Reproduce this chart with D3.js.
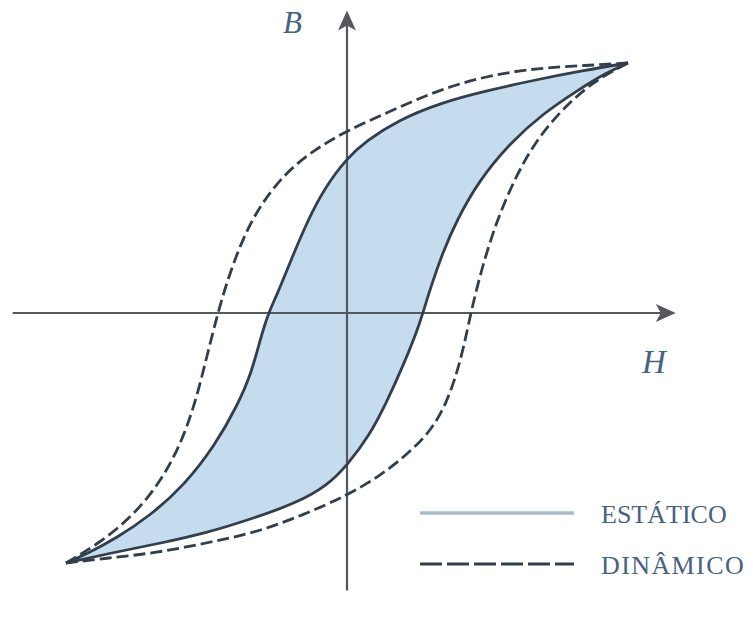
<!DOCTYPE html>
<html>
<head>
<meta charset="utf-8">
<script src="https://cdn.jsdelivr.net/npm/d3@7/dist/d3.min.js"></script>
<style>
  html, body { margin: 0; padding: 0; background: #fff; }
  svg { display: block; }
</style>
</head>
<body>
<svg id="chart" width="753" height="618"></svg>
<script>
// Hysteresis loops, normalised so both loop tips sit at (±1, ±1).
// Each branch is listed as [H, B] pairs.

// Static loop: descending (upper) branch, tip → tip
const staticUpper = [
  [1.00, 1.00], [0.84, 0.97], [0.66, 0.93], [0.50, 0.89], [0.33, 0.84],
  [0.18, 0.77], [0.07, 0.69], [0.00, 0.62], [-0.08, 0.50], [-0.14, 0.37],
  [-0.20, 0.21], [-0.25, 0.07], [-0.28, 0.00], [-0.31, -0.11], [-0.34, -0.24],
  [-0.39, -0.37], [-0.47, -0.53], [-0.58, -0.69], [-0.70, -0.81], [-0.82, -0.90],
  [-0.92, -0.96], [-1.00, -1.00]
];
// Static loop: ascending (lower) branch, tip → tip
const staticLower = [
  [-1.00, -1.00], [-0.84, -0.96], [-0.66, -0.92], [-0.50, -0.88], [-0.33, -0.82],
  [-0.18, -0.76], [-0.07, -0.69], [0.00, -0.61], [0.08, -0.49], [0.14, -0.36],
  [0.20, -0.21], [0.25, -0.07], [0.27, 0.00], [0.30, 0.11], [0.34, 0.24],
  [0.39, 0.37], [0.47, 0.53], [0.58, 0.68], [0.70, 0.80], [0.82, 0.89],
  [0.92, 0.96], [1.00, 1.00]
];
// Dynamic loop: descending branch
const dynamicUpper = [
  [1.00, 1.00], [0.85, 0.99], [0.68, 0.98], [0.50, 0.95], [0.32, 0.89],
  [0.16, 0.81], [0.00, 0.73], [-0.12, 0.65], [-0.22, 0.56], [-0.31, 0.43],
  [-0.37, 0.30], [-0.42, 0.15], [-0.46, 0.00], [-0.50, -0.18], [-0.54, -0.36],
  [-0.59, -0.52], [-0.66, -0.67], [-0.76, -0.81], [-0.88, -0.92], [-1.00, -1.00]
];
// Dynamic loop: ascending branch
const dynamicLower = [
  [-1.00, -1.00], [-0.85, -0.98], [-0.68, -0.96], [-0.50, -0.92], [-0.33, -0.88],
  [-0.16, -0.81], [0.00, -0.73], [0.12, -0.65], [0.22, -0.56], [0.30, -0.47],
  [0.36, -0.35], [0.41, -0.17], [0.44, 0.00], [0.48, 0.18], [0.53, 0.36],
  [0.59, 0.52], [0.66, 0.67], [0.76, 0.81], [0.88, 0.93], [1.00, 1.00]
];

// Extents of the H and B axes (arrow tips at the positive ends)
const hAxisExtent = [-1.19, 1.17];
const bAxisExtent = [-1.11, 1.21];

const axisLabels = { h: "H", b: "B" };
const legendItems = ["ESTÁTICO", "DINÂMICO"];

const svg = d3.select("#chart");

const x = d3.scaleLinear().domain([-1, 1]).range([66, 628]);
const y = d3.scaleLinear().domain([-1, 1]).range([563, 63]);

const lineColor = "#333e4b";
const axisColor = "#55585c";
const textColor = "#46627f";
const fillColor = "#c4dcee";

const line = d3.line()
  .x(d => x(d[0]))
  .y(d => y(d[1]))
  .curve(d3.curveBasis);

// Closed outline of a loop: descending branch followed by ascending branch
function loopPath(upper, lower) {
  return line(upper) + line(lower).replace(/^M/, "L") + "Z";
}

// Static loop area
svg.append("path")
  .attr("d", loopPath(staticUpper, staticLower))
  .attr("fill", fillColor)
  .attr("stroke", "none");

// Axes
const axes = svg.append("g").attr("stroke", axisColor).attr("fill", axisColor);
axes.append("line")
  .attr("x1", x(hAxisExtent[0])).attr("x2", x(hAxisExtent[1]) - 12)
  .attr("y1", y(0)).attr("y2", y(0))
  .attr("stroke-width", 2.2);
axes.append("line")
  .attr("x1", x(0)).attr("x2", x(0))
  .attr("y1", y(bAxisExtent[0])).attr("y2", y(bAxisExtent[1]) + 12)
  .attr("stroke-width", 2.2);

// Arrowheads
const hx = x(hAxisExtent[1]), hy = y(0);
axes.append("path")
  .attr("stroke", "none")
  .attr("d", `M${hx},${hy} L${hx - 20},${hy - 9} L${hx - 15},${hy} L${hx - 20},${hy + 9} Z`);
const vx = x(0), vy = y(bAxisExtent[1]);
axes.append("path")
  .attr("stroke", "none")
  .attr("d", `M${vx},${vy} L${vx - 9},${vy + 20} L${vx},${vy + 15} L${vx + 9},${vy + 20} Z`);

// Static loop outline
svg.append("path")
  .attr("d", loopPath(staticUpper, staticLower))
  .attr("fill", "none")
  .attr("stroke", lineColor)
  .attr("stroke-width", 2.8)
  .attr("stroke-linejoin", "miter");

// Dynamic loop (dashed)
[dynamicUpper, dynamicLower].forEach(branch => {
  svg.append("path")
    .attr("d", line(branch))
    .attr("fill", "none")
    .attr("stroke", lineColor)
    .attr("stroke-width", 2.8)
    .attr("stroke-dasharray", "12,5");
});

// Axis labels
svg.append("text")
  .attr("x", 283).attr("y", 33)
  .attr("font-family", "'Liberation Serif', 'DejaVu Serif', serif")
  .attr("font-style", "italic")
  .attr("font-size", 31)
  .attr("fill", textColor)
  .text(axisLabels.b);
svg.append("text")
  .attr("x", 642).attr("y", 373)
  .attr("font-family", "'Liberation Serif', 'DejaVu Serif', serif")
  .attr("font-style", "italic")
  .attr("font-size", 33)
  .attr("fill", textColor)
  .text(axisLabels.h);

// Legend
const legend = svg.append("g");
const legendRows = [
  { label: legendItems[0], y: 513, stroke: "#a8bccd", dash: null, width: 3.5, spacing: 0 },
  { label: legendItems[1], y: 564, stroke: lineColor, dash: "22,5", width: 3.2, spacing: 1.4 }
];
legendRows.forEach(r => {
  legend.append("line")
    .attr("x1", 420).attr("x2", 574)
    .attr("y1", r.y).attr("y2", r.y)
    .attr("stroke", r.stroke)
    .attr("stroke-width", r.width)
    .attr("stroke-dasharray", r.dash);
  legend.append("text")
    .attr("x", 601).attr("y", r.y + 10)
    .attr("font-family", "'Liberation Serif', 'DejaVu Serif', serif")
    .attr("font-size", 26)
    .attr("letter-spacing", r.spacing)
    .attr("fill", textColor)
    .text(r.label);
});
</script>
</body>
</html>
